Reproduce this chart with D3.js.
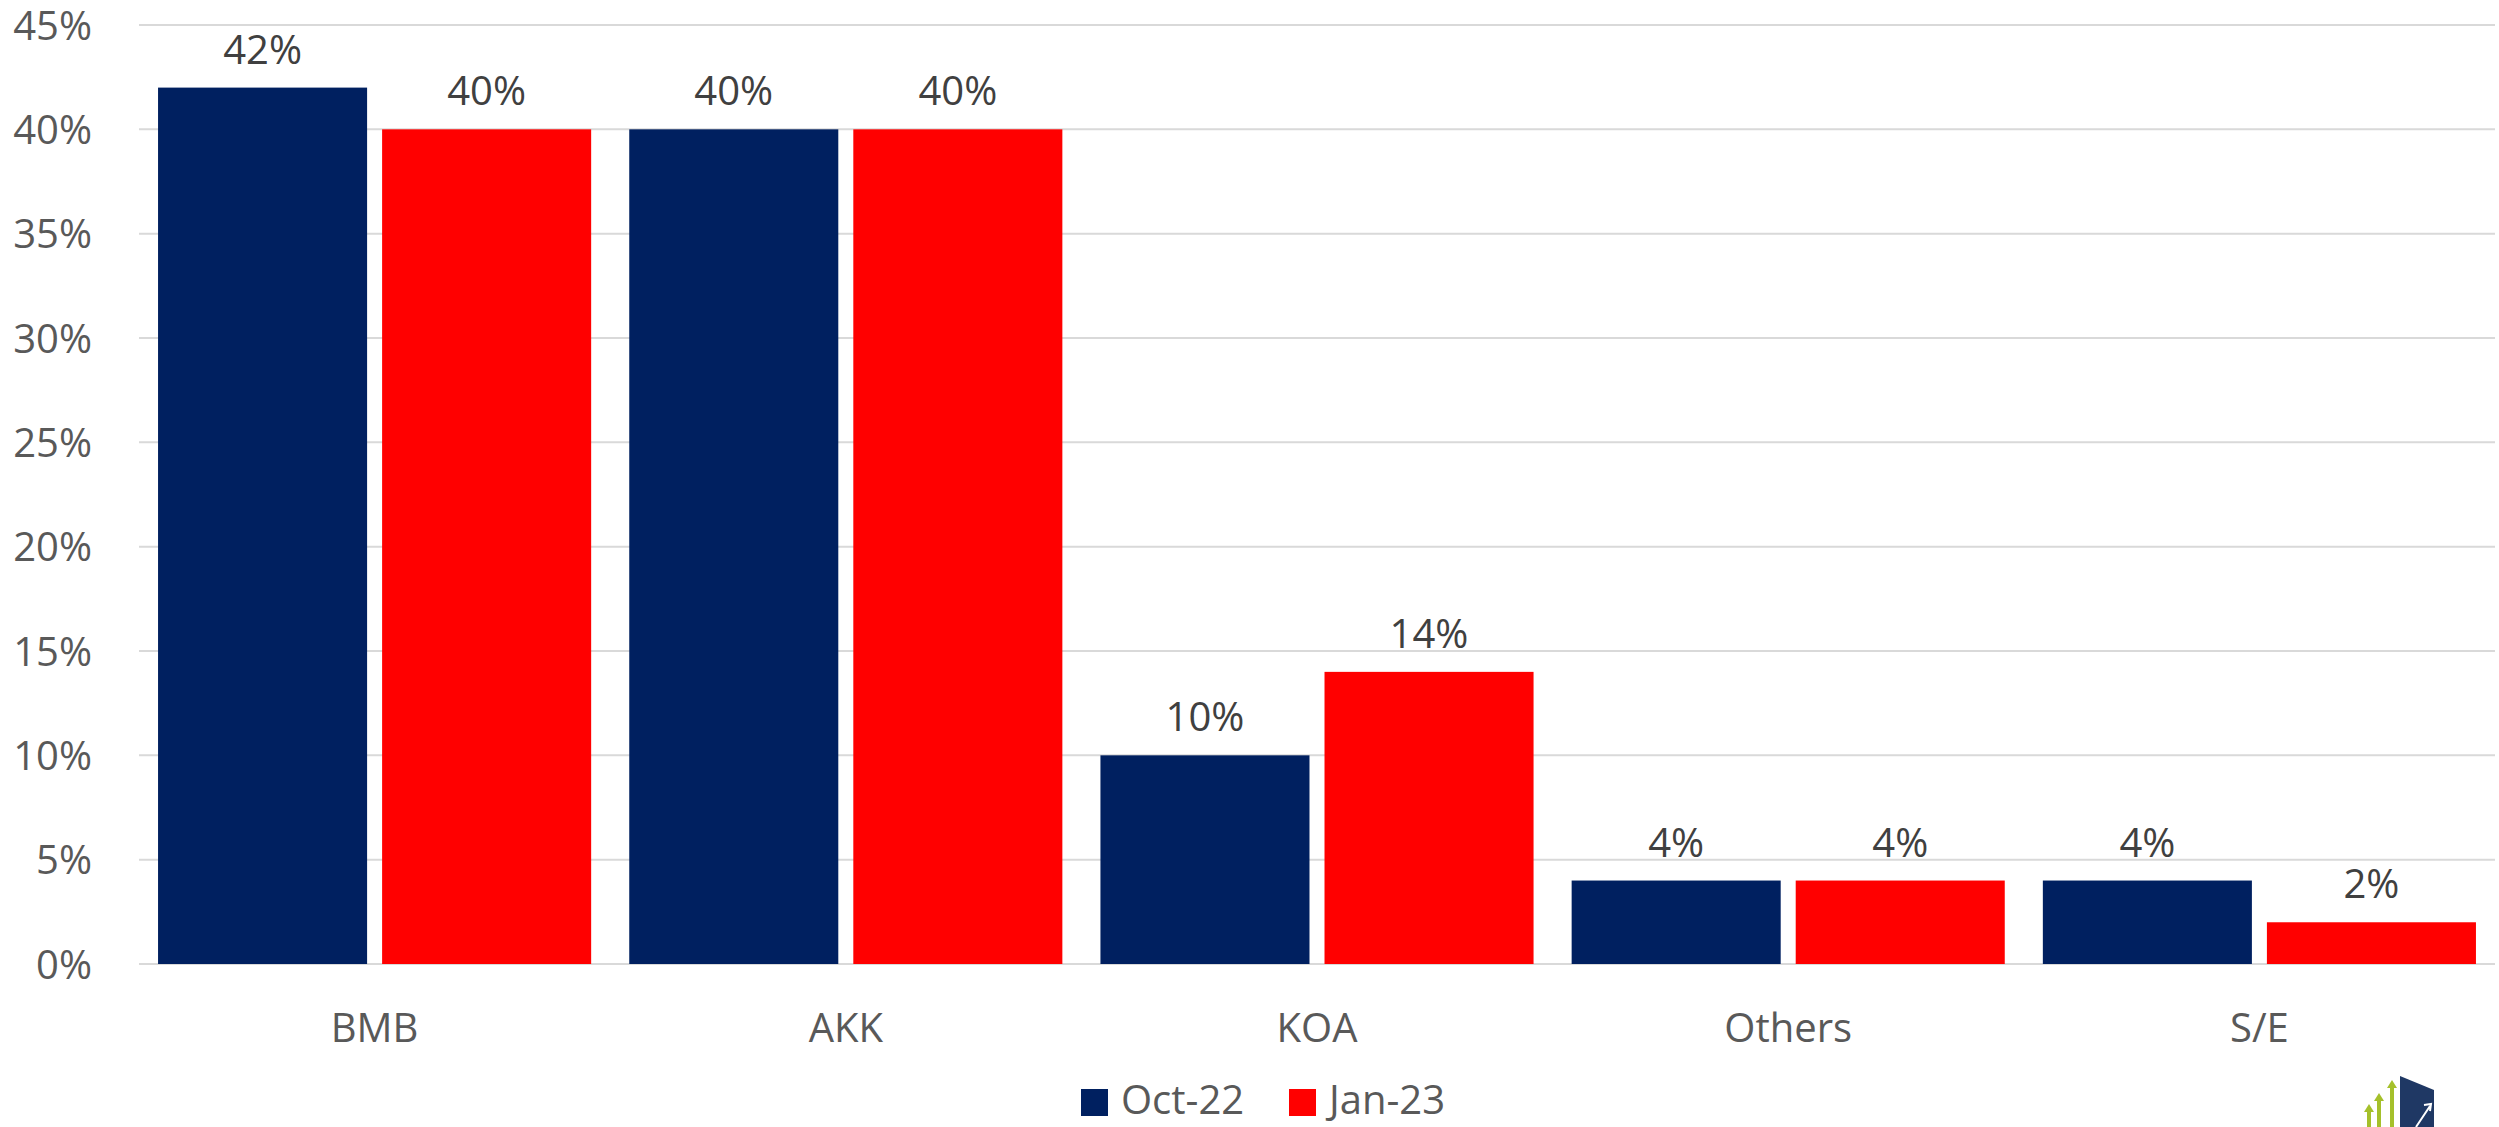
<!DOCTYPE html>
<html><head><meta charset="utf-8">
<script src="https://cdn.jsdelivr.net/npm/d3@7"></script>
<style>body{margin:0;background:#fff}svg{display:block}text{font-family:"Open Sans",sans-serif}</style>
</head><body>
<svg id="c" width="2499" height="1127"></svg>
<script>
const categories = ["BMB","AKK","KOA","Others","S/E"];
const seriesNames = ["Oct-22","Jan-23"];
const oct22 = [42,40,10,4,4];
const jan23 = [40,40,14,4,2];
const yTicks = [0,5,10,15,20,25,30,35,40,45];
const colors = ["#002060","#FF0000"];

(function(){
const svg = d3.select("#c");
const mLeft = 139, mRight = 2495, mTop = 25, mBottom = 964;
const x = d3.scaleBand().domain(categories).range([mLeft,mRight]).paddingInner(0).paddingOuter(0);
const xs = d3.scaleBand().domain(seriesNames).range([0,x.bandwidth()]).paddingInner(0.067).paddingOuter(0.085);
const y = d3.scaleLinear().domain([0,45]).range([mBottom,mTop]);

// gridlines
svg.append("g").selectAll("line").data(yTicks).join("line")
  .attr("x1",mLeft).attr("x2",mRight).attr("y1",d=>y(d)).attr("y2",d=>y(d))
  .attr("stroke","#d9d9d9").attr("stroke-width",2);

// y axis labels
const yAxis = d3.axisLeft(y).tickValues(yTicks).tickFormat(d=>d+"%").tickSize(0).tickPadding(0);
const ya = svg.append("g").attr("transform",`translate(92,0)`).call(yAxis);
ya.select(".domain").remove();
ya.selectAll("text").attr("font-size",40).attr("fill","#595959").attr("font-family","Open Sans").attr("dy","0.35em");

const data = categories.map((c,i)=>({c, vals:[oct22[i],jan23[i]]}));
const groups = svg.append("g").selectAll("g").data(data).join("g")
  .attr("transform",d=>`translate(${x(d.c)},0)`);
groups.selectAll("rect").data(d=>d.vals.map((v,j)=>({v,s:seriesNames[j],j}))).join("rect")
  .attr("x",d=>xs(d.s)).attr("width",xs.bandwidth())
  .attr("y",d=>y(d.v)).attr("height",d=>y(0)-y(d.v))
  .attr("fill",d=>colors[d.j]);
groups.selectAll("text").data(d=>d.vals.map((v,j)=>({v,s:seriesNames[j],j}))).join("text")
  .attr("x",d=>xs(d.s)+xs.bandwidth()/2).attr("y",d=>y(d.v)-24)
  .attr("text-anchor","middle").attr("font-size",40).attr("fill","#404040")
  .text(d=>d.v+"%");

// x axis labels
const xAxis = d3.axisBottom(x).tickSize(0).tickPadding(0);
const xa = svg.append("g").attr("transform",`translate(0,1042)`).call(xAxis);
xa.select(".domain").remove();
xa.selectAll("text").attr("font-size",40).attr("fill","#595959").attr("font-family","Open Sans").attr("dy","0");

// legend
const legendX = [1081,1289];
const lg = svg.append("g");
seriesNames.forEach((s,i)=>{
  lg.append("rect").attr("x",legendX[i]).attr("y",1089).attr("width",27).attr("height",27).attr("fill",colors[i]);
  lg.append("text").attr("x",legendX[i]+40).attr("y",1114).attr("font-size",40).attr("fill","#595959").text(s);
});

// logo decoration (bottom right, clipped)
const logo = svg.append("g");
logo.append("polygon").attr("points","2400,1076 2434,1090 2434,1127 2400,1127").attr("fill","#1f3864");
[[2369,1104],[2379,1093],[2392,1080]].forEach(([ax,ay])=>{
  logo.append("polygon").attr("points",`${ax},${ay} ${ax+5},${ay+8} ${ax+2},${ay+8} ${ax+2},1127 ${ax-2},1127 ${ax-2},${ay+8} ${ax-5},${ay+8}`).attr("fill","#a5c02b");
});
logo.append("path").attr("d","M2416,1127 L2430,1106 M2424,1105 L2431,1104 L2430,1111").attr("stroke","#fff").attr("stroke-width",2).attr("fill","none");
})();
</script>
</body></html>
